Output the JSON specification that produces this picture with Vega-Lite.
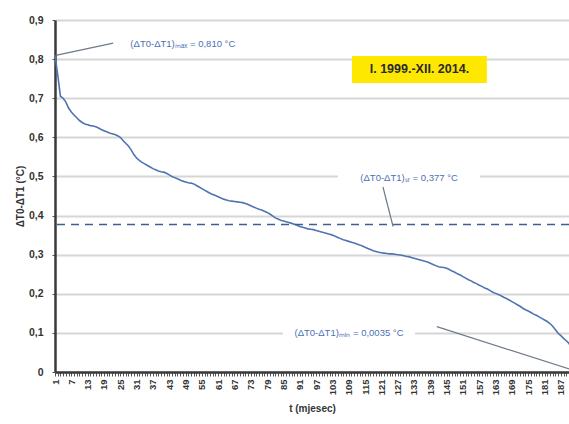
{
  "$schema": "https://vega.github.io/schema/vega-lite/v6.json",
  "width": 514,
  "height": 352,
  "autosize": {"type": "none"},
  "padding": {"left": 55, "top": 20, "right": 0, "bottom": 52},
  "background": "white",
  "config": {
    "view": {"stroke": null},
    "font": "Liberation Sans",
    "axis": {"titleFont": "Liberation Sans", "labelFont": "Liberation Sans"}
  },
  "datasets": {
    "curve": [
      {"t":1,"v":0.810},{"t":2,"v":0.760},{"t":3,"v":0.705},{"t":4,"v":0.700},{"t":5,"v":0.690},{"t":6,"v":0.675},{"t":7,"v":0.665},{"t":8,"v":0.657},{"t":9,"v":0.650},{"t":10,"v":0.643},
      {"t":11,"v":0.638},{"t":12,"v":0.634},{"t":13,"v":0.632},{"t":14,"v":0.630},{"t":15,"v":0.629},{"t":16,"v":0.627},{"t":17,"v":0.624},{"t":18,"v":0.620},{"t":19,"v":0.617},{"t":20,"v":0.614},
      {"t":21,"v":0.611},{"t":22,"v":0.609},{"t":23,"v":0.607},{"t":24,"v":0.604},{"t":25,"v":0.600},{"t":26,"v":0.592},{"t":27,"v":0.585},{"t":28,"v":0.578},{"t":29,"v":0.568},{"t":30,"v":0.556},
      {"t":31,"v":0.547},{"t":32,"v":0.541},{"t":33,"v":0.536},{"t":34,"v":0.532},{"t":35,"v":0.528},{"t":36,"v":0.524},{"t":37,"v":0.520},{"t":38,"v":0.517},{"t":39,"v":0.514},{"t":40,"v":0.512},
      {"t":41,"v":0.511},{"t":42,"v":0.508},{"t":43,"v":0.504},{"t":44,"v":0.500},{"t":45,"v":0.497},{"t":46,"v":0.494},{"t":47,"v":0.491},{"t":48,"v":0.488},{"t":49,"v":0.486},{"t":50,"v":0.484},
      {"t":51,"v":0.483},{"t":52,"v":0.481},{"t":53,"v":0.477},{"t":54,"v":0.473},{"t":55,"v":0.469},{"t":56,"v":0.465},{"t":57,"v":0.461},{"t":58,"v":0.457},{"t":59,"v":0.454},{"t":60,"v":0.451},
      {"t":61,"v":0.448},{"t":62,"v":0.445},{"t":63,"v":0.442},{"t":64,"v":0.440},{"t":65,"v":0.438},{"t":66,"v":0.437},{"t":67,"v":0.436},{"t":68,"v":0.435},{"t":69,"v":0.434},{"t":70,"v":0.433},
      {"t":71,"v":0.431},{"t":72,"v":0.428},{"t":73,"v":0.425},{"t":74,"v":0.422},{"t":75,"v":0.419},{"t":76,"v":0.416},{"t":77,"v":0.414},{"t":78,"v":0.411},{"t":79,"v":0.408},{"t":80,"v":0.404},
      {"t":81,"v":0.399},{"t":82,"v":0.394},{"t":83,"v":0.391},{"t":84,"v":0.388},{"t":85,"v":0.386},{"t":86,"v":0.384},{"t":87,"v":0.382},{"t":88,"v":0.380},{"t":89,"v":0.378},{"t":90,"v":0.375},
      {"t":91,"v":0.372},{"t":92,"v":0.370},{"t":93,"v":0.368},{"t":94,"v":0.366},{"t":95,"v":0.365},{"t":96,"v":0.364},{"t":97,"v":0.362},{"t":98,"v":0.360},{"t":99,"v":0.358},{"t":100,"v":0.356},
      {"t":101,"v":0.354},{"t":102,"v":0.352},{"t":103,"v":0.350},{"t":104,"v":0.347},{"t":105,"v":0.344},{"t":106,"v":0.341},{"t":107,"v":0.338},{"t":108,"v":0.336},{"t":109,"v":0.334},{"t":110,"v":0.332},
      {"t":111,"v":0.330},{"t":112,"v":0.327},{"t":113,"v":0.325},{"t":114,"v":0.322},{"t":115,"v":0.319},{"t":116,"v":0.316},{"t":117,"v":0.313},{"t":118,"v":0.310},{"t":119,"v":0.308},{"t":120,"v":0.306},
      {"t":121,"v":0.305},{"t":122,"v":0.304},{"t":123,"v":0.303},{"t":124,"v":0.302},{"t":125,"v":0.302},{"t":126,"v":0.301},{"t":127,"v":0.300},{"t":128,"v":0.299},{"t":129,"v":0.298},{"t":130,"v":0.296},
      {"t":131,"v":0.295},{"t":132,"v":0.293},{"t":133,"v":0.291},{"t":134,"v":0.289},{"t":135,"v":0.287},{"t":136,"v":0.285},{"t":137,"v":0.283},{"t":138,"v":0.281},{"t":139,"v":0.278},{"t":140,"v":0.275},
      {"t":141,"v":0.272},{"t":142,"v":0.269},{"t":143,"v":0.268},{"t":144,"v":0.267},{"t":145,"v":0.265},{"t":146,"v":0.262},{"t":147,"v":0.258},{"t":148,"v":0.255},{"t":149,"v":0.251},{"t":150,"v":0.248},
      {"t":151,"v":0.244},{"t":152,"v":0.240},{"t":153,"v":0.236},{"t":154,"v":0.233},{"t":155,"v":0.229},{"t":156,"v":0.226},{"t":157,"v":0.222},{"t":158,"v":0.219},{"t":159,"v":0.215},{"t":160,"v":0.212},
      {"t":161,"v":0.208},{"t":162,"v":0.204},{"t":163,"v":0.201},{"t":164,"v":0.198},{"t":165,"v":0.195},{"t":166,"v":0.191},{"t":167,"v":0.188},{"t":168,"v":0.184},{"t":169,"v":0.180},{"t":170,"v":0.176},
      {"t":171,"v":0.172},{"t":172,"v":0.168},{"t":173,"v":0.163},{"t":174,"v":0.159},{"t":175,"v":0.156},{"t":176,"v":0.152},{"t":177,"v":0.148},{"t":178,"v":0.145},{"t":179,"v":0.141},{"t":180,"v":0.137},
      {"t":181,"v":0.133},{"t":182,"v":0.129},{"t":183,"v":0.124},{"t":184,"v":0.117},{"t":185,"v":0.108},{"t":186,"v":0.099},{"t":187,"v":0.093},{"t":188,"v":0.086},{"t":189,"v":0.080},{"t":190,"v":0.073},
      {"t":191,"v":0.060},{"t":192,"v":0.0035}
    ],
    "boxes": [
      {"name":"period","x1":110.2,"x2":159.8,"y1":0.739,"y2":0.808,"fill":"#ffe800"},
      {"name":"sr","x1":105,"x2":157.2,"y1":0.478,"y2":0.514,"fill":"white"},
      {"name":"min","x1":84.8,"x2":133.4,"y1":0.082,"y2":0.118,"fill":"white"}
    ],
    "leaders": [
      {"x1":22.4,"y1":0.841,"x2":1.7,"y2":0.81},
      {"x1":121.6,"y1":0.473,"x2":125.3,"y2":0.372},
      {"x1":141.4,"y1":0.116,"x2":192,"y2":0.0035}
    ],
    "labels": [
      {"x":48.0,"y":0.839,"txt":"(ΔT0-ΔT1)ₘₐₓ = 0,810 °C"},
      {"x":131.2,"y":0.496,"txt":"(ΔT0-ΔT1)ₛᵣ = 0,377 °C"},
      {"x":109.1,"y":0.100,"txt":"(ΔT0-ΔT1)ₘᵢₙ = 0,0035 °C"}
    ]
  },
  "layer": [
    {
      "data": {"name": "curve"},
      "mark": {"type": "line", "color": "#5073b2", "strokeWidth": 1.6, "clip": true},
      "encoding": {
        "x": {
          "field": "t", "type": "quantitative",
          "scale": {"domain": [1, 190], "nice": false, "zero": false},
          "axis": {
            "title": "t (mjesec)",
            "titleFontSize": 10, "titleFontWeight": "bold", "titleColor": "#333333", "titlePadding": 9,
            "grid": false,
            "tickCount": 500,
            "values": [1,2,3,4,5,6,7,8,9,10,11,12,13,14,15,16,17,18,19,20,21,22,23,24,25,26,27,28,29,30,31,32,33,34,35,36,37,38,39,40,41,42,43,44,45,46,47,48,49,50,51,52,53,54,55,56,57,58,59,60,61,62,63,64,65,66,67,68,69,70,71,72,73,74,75,76,77,78,79,80,81,82,83,84,85,86,87,88,89,90,91,92,93,94,95,96,97,98,99,100,101,102,103,104,105,106,107,108,109,110,111,112,113,114,115,116,117,118,119,120,121,122,123,124,125,126,127,128,129,130,131,132,133,134,135,136,137,138,139,140,141,142,143,144,145,146,147,148,149,150,151,152,153,154,155,156,157,158,159,160,161,162,163,164,165,166,167,168,169,170,171,172,173,174,175,176,177,178,179,180,181,182,183,184,185,186,187,188,189,190],
            "labelExpr": "(datum.value - 1) % 6 == 0 ? datum.value : ''",
            "labelOverlap": false, "labelBound": false, "labelFlush": false,
            "labelAngle": 270, "labelAlign": "right", "labelBaseline": "middle",
            "labelFontSize": 9.5, "labelFontWeight": "bold", "labelColor": "#333333", "labelPadding": 3,
            "domainColor": "#3a3a3a", "domainWidth": 2.5,
            "tickColor": "#555555", "tickSize": 4, "tickWidth": 1
          }
        },
        "y": {
          "field": "v", "type": "quantitative",
          "scale": {"domain": [0, 0.9], "nice": false},
          "axis": {
            "title": "ΔT0-ΔT1 (°C)",
            "titleFontSize": 10, "titleFontWeight": "bold", "titleColor": "#333333", "titlePadding": 3,
            "tickCount": 50,
            "values": [0, 0.1, 0.2, 0.3, 0.4, 0.5, 0.6, 0.7, 0.8, 0.9],
            "labelExpr": "replace(format(datum.value, '.1~f'), '.', ',')",
            "labelOverlap": false,
            "labelFontSize": 10.5, "labelFontWeight": "bold", "labelColor": "#333333", "labelPadding": 9,
            "grid": true, "gridColor": "#d6d6d6", "gridWidth": 2,
            "domainColor": "#3a3a3a", "domainWidth": 2.5,
            "tickColor": "#555555", "tickSize": 3, "tickWidth": 1
          }
        }
      }
    },
    {
      "data": {"values": [{"v": 0.377}]},
      "mark": {"type": "rule", "color": "#3d5f96", "strokeWidth": 1.5, "strokeDash": [8, 6]},
      "encoding": {"y": {"field": "v", "type": "quantitative"}}
    },
    {
      "data": {"name": "boxes"},
      "mark": {"type": "rect"},
      "encoding": {
        "x": {"field": "x1", "type": "quantitative"},
        "x2": {"field": "x2"},
        "y": {"field": "y1", "type": "quantitative"},
        "y2": {"field": "y2"},
        "fill": {"field": "fill", "type": "nominal", "scale": null}
      }
    },
    {
      "data": {"name": "leaders"},
      "mark": {"type": "rule", "color": "#6f7a8a", "strokeWidth": 1.2, "clip": true},
      "encoding": {
        "x": {"field": "x1", "type": "quantitative"},
        "x2": {"field": "x2"},
        "y": {"field": "y1", "type": "quantitative"},
        "y2": {"field": "y2"}
      }
    },
    {
      "data": {"name": "labels"},
      "mark": {"type": "text", "color": "#4c6fb5", "fontSize": 9.5, "baseline": "middle", "align": "center"},
      "encoding": {
        "x": {"field": "x", "type": "quantitative"},
        "y": {"field": "y", "type": "quantitative"},
        "text": {"field": "txt"}
      }
    },
    {
      "data": {"values": [{"x": 135, "y": 0.7735, "txt": "I. 1999.-XII. 2014."}]},
      "mark": {"type": "text", "color": "#2a2a2a", "fontSize": 12.5, "fontWeight": "bold", "baseline": "middle", "align": "center"},
      "encoding": {
        "x": {"field": "x", "type": "quantitative"},
        "y": {"field": "y", "type": "quantitative"},
        "text": {"field": "txt"}
      }
    }
  ]
}
